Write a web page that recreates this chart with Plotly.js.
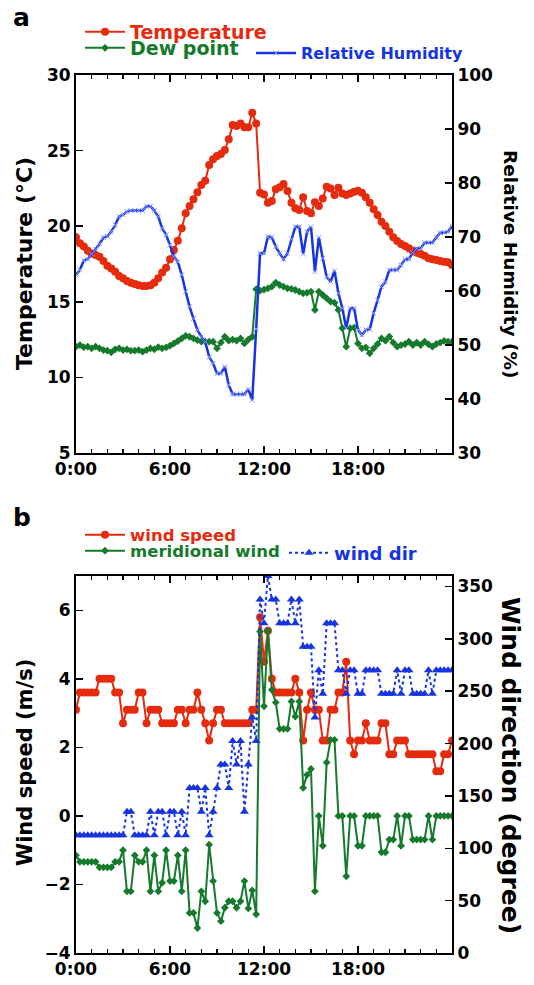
<!DOCTYPE html>
<html>
<head>
<meta charset="utf-8">
<script src="https://cdn.plot.ly/plotly-3.0.1.min.js"></script>
<style>html,body{margin:0;padding:0;background:#fff;}#chart{width:534px;height:985px;}</style>
</head>
<body>
<div id="chart"></div>
<script>
// time of day in hours (15-minute records)
const hours = [0,0.25,0.5,0.75,1,1.25,1.5,1.75,2,2.25,2.5,2.75,3,3.25,3.5,3.75,4,4.25,4.5,4.75,5,5.25,5.5,5.75,6,6.25,6.5,6.75,7,7.25,7.5,7.75,8,8.25,8.5,8.75,9,9.25,9.5,9.75,10,10.25,10.5,10.75,11,11.25,11.5,11.75,12,12.25,12.5,12.75,13,13.25,13.5,13.75,14,14.25,14.5,14.75,15,15.25,15.5,15.75,16,16.25,16.5,16.75,17,17.25,17.5,17.75,18,18.25,18.5,18.75,19,19.25,19.5,19.75,20,20.25,20.5,20.75,21,21.25,21.5,21.75,22,22.25,22.5,22.75,23,23.25,23.5,23.75,24];
const tickHours = [0,6,12,18];
const tickLabels = ["0:00","6:00","12:00","18:00"];

// panel a
const temperature = [19.27,18.87,18.65,18.38,18.2,18.1,17.98,17.7,17.39,17.21,
16.99,16.7,16.55,16.38,16.26,16.18,16.09,16.05,16.05,16.09,
16.26,16.55,16.93,17.26,17.81,18.43,19.04,19.86,20.85,21.34,
21.78,22.24,22.72,23.01,24.05,24.42,24.64,24.78,25.04,25.75,
26.69,26.63,26.8,26.54,26.54,27.51,26.8,22.22,22.1,21.55,
21.67,22.44,22.57,22.79,22.33,21.55,21.18,21.07,21.91,21.0,
20.85,21.58,21.34,21.84,22.61,22.5,22.06,22.55,22.17,22.06,
22.17,22.28,22.35,22.22,21.91,21.55,21.12,20.74,20.3,20.01,
19.64,19.27,19.02,18.82,18.69,18.54,18.38,18.25,18.16,18.05,
17.88,17.81,17.77,17.7,17.65,17.61,17.43];
const dewPoint = [12.03,12.14,12.0,12.03,11.92,12.03,11.92,11.81,11.77,11.66,
11.86,11.92,11.81,11.86,11.77,11.77,11.81,11.7,11.81,11.92,
11.86,12.0,11.92,11.98,12.1,12.25,12.4,12.58,12.75,12.69,
12.58,12.47,12.36,12.36,12.36,12.36,11.92,12.3,12.69,12.43,
12.5,12.43,12.58,12.25,12.5,12.69,15.83,15.74,15.8,15.89,
16.0,16.27,16.11,16.0,15.89,15.85,15.78,15.67,15.56,15.6,
15.67,14.46,15.67,15.45,15.23,15.01,14.94,14.46,13.25,12.03,
13.25,13.29,12.25,11.92,11.98,11.59,11.92,12.21,12.58,12.43,
12.7,12.3,12.03,12.14,12.21,12.36,12.14,12.3,12.14,12.36,
12.19,12.03,12.21,12.3,12.41,12.36,12.36];
const relHumidity = [62.96,63.9,65.7,65.9,66.85,67.7,68.7,69.9,70.1,71.0,
72.2,73.8,74.1,74.7,74.9,74.9,74.9,74.9,75.7,75.7,
74.9,73.8,71.6,70.4,68.5,66.4,65.4,63.0,59.9,57.1,
54.9,52.8,51.5,50.6,47.8,46.6,44.7,44.7,46.0,42.6,
40.9,40.9,40.9,40.9,41.8,39.8,53.0,66.98,66.98,70.06,
69.94,68.2,66.98,65.9,66.98,69.6,71.9,71.9,66.85,70.99,
71.9,63.6,69.94,66.05,62.65,61.7,63.76,59.6,56.8,53.1,
56.8,56.8,52.8,51.85,52.8,52.9,55.9,58.3,60.8,61.7,
63.9,63.9,63.9,64.8,65.9,65.9,67.1,67.9,67.9,68.95,
68.95,68.95,69.94,70.8,70.8,70.99,72.04];

// panel b
const windSpeed = [3.1,3.6,3.6,3.6,3.6,3.6,4.0,4.0,4.0,4.0,
3.6,3.6,2.7,3.1,3.1,3.1,3.6,3.6,2.7,3.1,
3.1,3.1,2.7,2.7,2.7,2.7,3.1,3.1,2.7,3.1,
3.1,3.6,3.1,2.7,2.2,2.7,3.1,3.1,2.7,2.7,
2.7,2.7,2.7,2.7,2.7,3.1,3.1,5.8,4.5,5.4,
4.0,3.6,3.6,3.6,3.6,3.6,4.0,3.6,2.2,3.1,
3.6,3.1,3.1,2.2,2.2,3.1,3.1,3.6,3.6,4.5,
2.2,1.8,2.2,2.2,2.7,2.2,2.2,2.2,2.7,2.7,
1.8,1.8,2.2,2.2,2.2,1.8,1.8,1.8,1.8,1.8,
1.8,1.8,1.3,1.3,1.8,1.8,2.2];
const meridionalWind = [-1.15,-1.34,-1.34,-1.34,-1.34,-1.34,-1.5,-1.5,-1.5,-1.5,
-1.34,-1.34,-1.0,-2.2,-2.2,-1.15,-1.34,-1.34,-1.0,-2.2,
-1.15,-2.2,-1.95,-1.0,-1.9,-1.9,-1.15,-2.2,-1.0,-2.83,
-2.83,-3.27,-2.2,-2.49,-0.84,-1.9,-2.83,-3.07,-2.68,-2.49,
-2.49,-2.68,-2.49,-1.9,-2.7,-2.17,-2.87,5.38,3.2,5.4,
3.68,3.31,2.54,2.54,2.54,3.34,2.9,3.34,0.82,1.2,
1.37,-2.2,0,-0.87,1.56,2.22,2.22,0,0,-1.76,
0,0,-0.87,-0.87,0,0,0,0,-1.06,-1.06,
-0.69,-0.69,0,-0.87,0,0,-0.69,-0.69,-0.69,-0.69,
0,-0.69,0,0,0,0,0];
const windDir = [112.5,112.5,112.5,112.5,112.5,112.5,112.5,112.5,112.5,112.5,
112.5,112.5,112.5,135,135,112.5,112.5,112.5,112.5,135,
112.5,135,135,112.5,135,135,112.5,135,112.5,157.5,
157.5,157.5,135,157.5,112.5,135,157.5,180,180,157.5,
202.5,180,202.5,135,180,225,202.5,337.5,315,360,
337.5,337.5,315,315,315,337.5,315,337.5,292.5,292.5,
292.5,225,270,247.5,315,315,315,270,270,247.5,
270,270,247.5,247.5,270,270,270,270,247.5,247.5,
247.5,247.5,270,247.5,270,270,247.5,247.5,247.5,247.5,
270,247.5,270,270,270,270,270];

const RED = '#e52b0e', GREEN = '#167a2c', BLUE = '#1634e0';
const FONT = 'DejaVu Sans, sans-serif';

const L = 76, R = 452, T = 75, B = 953, W = 534, H = 985;
const px = v => (v - L) / (R - L);
const py = v => (B - v) / (B - T);

function legendAt(x, y, color, size) {
  return {x: px(x), y: py(y), xanchor: 'left', yanchor: 'middle', bgcolor: 'rgba(0,0,0,0)',
    borderwidth: 0, itemwidth: 40, font: {family: FONT, size: size, weight: 'bold', color: color},
    tracegroupgap: 0, itemclick: false};
}

const traces = [
  {x: hours, y: temperature, name: 'Temperature', xaxis: 'x', yaxis: 'y', mode: 'lines+markers',
   line: {color: RED, width: 2}, marker: {symbol: 'circle', size: 8, color: RED}, legend: 'legend'},
  {x: hours, y: dewPoint, name: 'Dew point', xaxis: 'x', yaxis: 'y', mode: 'lines+markers',
   line: {color: GREEN, width: 2}, marker: {symbol: 'diamond', size: 6, color: GREEN}, legend: 'legend2'},
  {x: hours, y: relHumidity, name: 'Relative Humidity', xaxis: 'x', yaxis: 'y2', mode: 'lines+markers',
   line: {color: BLUE, width: 2.5}, marker: {symbol: 'x-thin', size: 5, line: {color: '#8d9cff', width: 1}}, legend: 'legend3'},
  {x: hours, y: windSpeed, name: 'wind speed', xaxis: 'x2', yaxis: 'y3', mode: 'lines+markers',
   line: {color: RED, width: 2}, marker: {symbol: 'circle', size: 8, color: RED}, legend: 'legend4'},
  {x: hours, y: meridionalWind, name: 'meridional wind', xaxis: 'x2', yaxis: 'y3', mode: 'lines+markers',
   line: {color: GREEN, width: 2}, marker: {symbol: 'diamond', size: 6, color: GREEN}, legend: 'legend5'},
  {x: hours, y: windDir, name: 'wind dir', xaxis: 'x2', yaxis: 'y4', mode: 'lines+markers',
   line: {color: BLUE, width: 2, dash: 'dot'}, marker: {symbol: 'triangle-up', size: 8, color: BLUE}, legend: 'legend6'}
];

const tickFont = {family: FONT, size: 17, weight: 'bold', color: '#000'};
function xAx(anchor) {
  return {anchor: anchor, domain: [0, 1], range: [0, 24], tickmode: 'array', tickvals: tickHours, ticktext: tickLabels,
    ticks: 'inside', ticklen: 7, tickwidth: 1.5, tickcolor: '#000', showline: true, linewidth: 2, linecolor: '#000',
    mirror: 'ticks', showgrid: false, zeroline: false, tickfont: tickFont,
    minor: {dtick: 1, ticks: 'inside', ticklen: 4, tickwidth: 1.5, tickcolor: '#000', showgrid: false}};
}
function yAx(domain, range, dtick, side, overlay, anchor) {
  const a = {domain: domain, range: range, dtick: dtick, tick0: 0, ticks: 'inside', ticklen: 7, tickwidth: 1.5,
    tickcolor: '#000', showline: true, linewidth: 2, linecolor: '#000', showgrid: false, zeroline: false,
    tickfont: tickFont, side: side, anchor: anchor};
  if (overlay) a.overlaying = overlay;
  return a;
}

const tf = s => ({family: FONT, size: s, weight: 'bold', color: '#000'});
function note(text, x, y, angle, font) {
  return {text: text, xref: 'paper', yref: 'paper', x: px(x), y: py(y), xanchor: 'center', yanchor: 'middle',
    textangle: angle, showarrow: false, font: font};
}
const layout = {
  width: W, height: H, margin: {l: L, r: W - R, t: T, b: H - B, pad: 0},
  paper_bgcolor: '#fff', plot_bgcolor: '#fff', showlegend: true,
  xaxis: xAx('y'),
  yaxis: yAx([py(453), 1], [5, 30], 5, 'left', null, 'x'),
  yaxis2: yAx([py(453), 1], [30, 100], 10, 'right', 'y', 'x'),
  xaxis2: xAx('y3'),
  yaxis3: Object.assign(yAx([0, py(576)], [-4, 7], 2, 'left', null, 'x2'), {tick0: -4}),
  yaxis4: yAx([0, py(576)], [0, 360], 50, 'right', 'y3', 'x2'),
  legend: legendAt(80, 32, RED, 19),
  legend2: legendAt(80, 48, GREEN, 19),
  legend3: legendAt(251, 53, BLUE, 16),
  legend4: legendAt(80, 535, RED, 16.5),
  legend5: legendAt(80, 551, GREEN, 16.5),
  legend6: legendAt(284, 553, BLUE, 18),
  annotations: [
    note('a', 22, 18, 0, tf(25)),
    note('b', 22, 517, 0, tf(25)),
    note('Temperature (°C)', 25, 264, -90, tf(22)),
    note('Relative Humidity (%)', 510, 264, 90, tf(18.5)),
    note('Wind speed (m/s)', 25, 763, -90, tf(21)),
    note('Wind direction (degree)', 511, 765, 90, tf(25))
  ]
};

Plotly.newPlot('chart', traces, layout, {displayModeBar: false, staticPlot: true});
</script>
</body>
</html>
